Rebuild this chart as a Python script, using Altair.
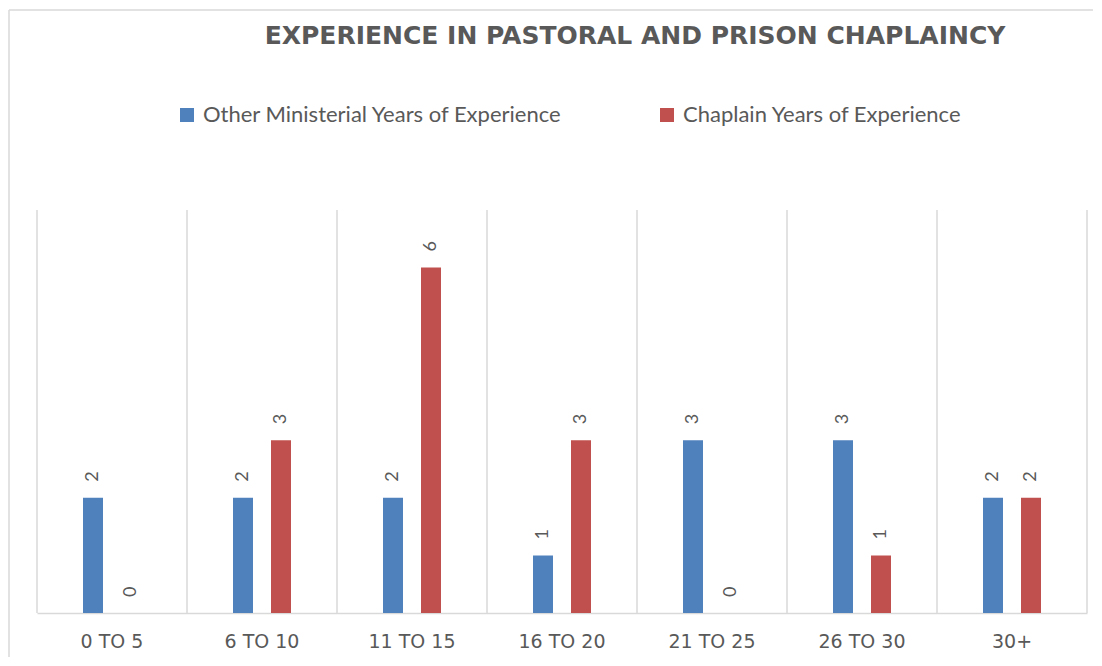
import altair as alt
import pandas as pd

categories = ["0 TO 5", "6 TO 10", "11 TO 15", "16 TO 20", "21 TO 25", "26 TO 30", "30+"]
series_names = ["Other Ministerial Years of Experience", "Chaplain Years of Experience"]
other_years = [2, 2, 2, 1, 3, 3, 2]
chaplain_years = [0, 3, 6, 3, 0, 1, 2]
colors = ["#4F81BD", "#C0504D"]

rows = []
for i, c in enumerate(categories):
    rows.append({"cat": c, "series": series_names[0], "value": other_years[i]})
    rows.append({"cat": c, "series": series_names[1], "value": chaplain_years[i]})
df = pd.DataFrame(rows)
cat_df = pd.DataFrame({"cat": categories})

W, H = 1050, 403
GRAY = "#595959"
GRID = "#D9D9D9"

xscale = alt.Scale(domain=categories, paddingInner=0, paddingOuter=0)
xoff_scale = alt.Scale(domain=series_names, range=[46, 104], paddingInner=0.4737, paddingOuter=0)
yscale = alt.Scale(domain=[0, 7], nice=False)

one = pd.DataFrame({"k": [0]})
border_top = alt.Chart(one).mark_rule(color=GRID, strokeWidth=1.5).encode(
    x=alt.value(-28), x2=alt.value(1056), y=alt.value(-200)
)
border_left = alt.Chart(one).mark_rule(color=GRID, strokeWidth=1.5).encode(
    x=alt.value(-28), y=alt.value(-200), y2=alt.value(447)
)

grid = alt.Chart(cat_df).mark_rule(color=GRID, strokeWidth=1.5).encode(
    x=alt.X("cat:N", scale=xscale, sort=categories, bandPosition=0, title=None),
    y=alt.value(0), y2=alt.value(H)
)
grid_end = alt.Chart(one).mark_rule(color=GRID, strokeWidth=1.5).encode(
    x=alt.value(W), y=alt.value(0), y2=alt.value(H)
)

bars = alt.Chart(df).mark_bar().encode(
    x=alt.X("cat:N", scale=xscale, sort=categories, title=None,
            axis=alt.Axis(labelAngle=0, labelAlign="center", labelFont="DejaVu Sans",
                          labelFontSize=19, labelColor=GRAY, labelPadding=28, ticks=False,
                          domainColor=GRID, domainWidth=1.5, grid=False)),
    xOffset=alt.XOffset("series:N", scale=xoff_scale, sort=series_names),
    y=alt.Y("value:Q", scale=yscale, axis=None),
    color=alt.Color("series:N", scale=alt.Scale(domain=series_names, range=colors),
                    sort=series_names,
                    legend=alt.Legend(orient="none", direction="horizontal", title=None,
                                      legendX=139, legendY=-106,
                                      symbolType="square", symbolSize=196,
                                      symbolStrokeWidth=0, labelFont="Lato",
                                      labelFontSize=22, labelColor=GRAY,
                                      labelOffset=5, columnPadding=93, labelLimit=600)),
)

labels = alt.Chart(df).mark_text(
    angle=270, align="left", baseline="middle", dx=16, dy=0,
    font="Lato", fontSize=18, color=GRAY
).encode(
    x=alt.X("cat:N", scale=xscale, sort=categories),
    xOffset=alt.XOffset("series:N", scale=xoff_scale, sort=series_names),
    y=alt.Y("value:Q", scale=yscale),
    text=alt.Text("value:Q"),
)

chart = alt.layer(border_top, border_left, grid, grid_end, bars, labels).properties(
    width=W, height=H,
    title=alt.TitleParams(
        "EXPERIENCE IN PASTORAL AND PRISON CHAPLAINCY",
        font="DejaVu Sans", fontSize=25, fontWeight="bold", color=GRAY,
        anchor="middle", frame="group", dx=73, offset=-40
    ),
    autosize=alt.AutoSizeParams(type="none"),
    padding={"left": 29, "top": 202, "right": 7, "bottom": 45},
).configure_view(stroke=None, strokeWidth=0)

chart.save("out.html", embed_options={"renderer": "svg", "actions": False})
